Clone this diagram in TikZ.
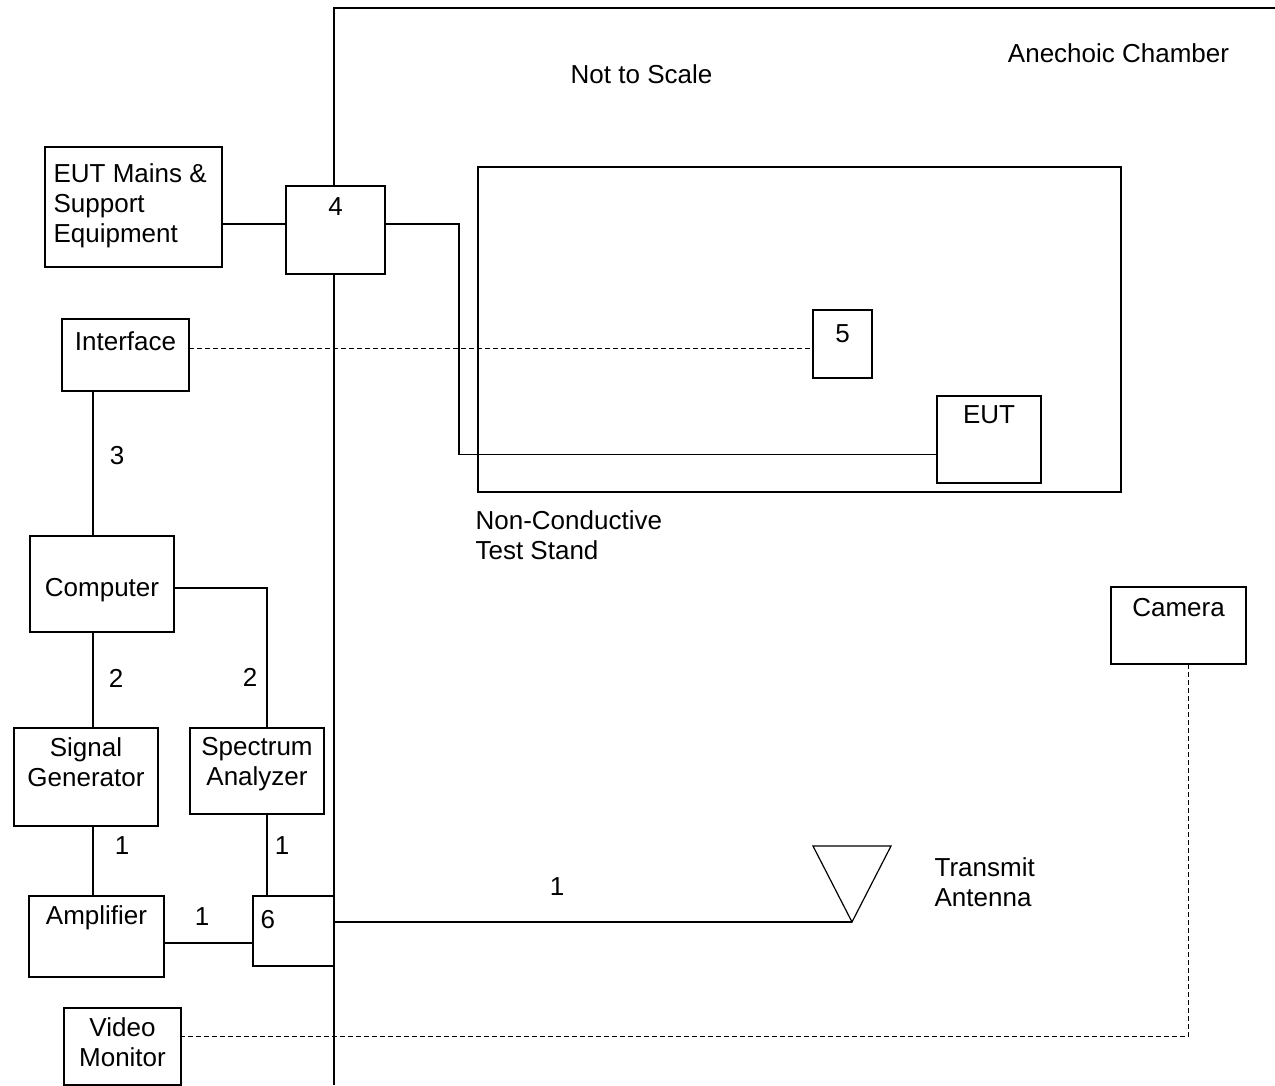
\documentclass[tikz,border=0pt]{standalone}
\usepackage{fontspec}
\setmainfont{Liberation Sans}
\usetikzlibrary{positioning}

\begin{document}
\begin{tikzpicture}[x=1pt,y=-1pt,line width=1.2pt,
  box/.style={draw,anchor=north west,inner sep=0pt,outer sep=0pt},
  txt/.style={inner sep=0pt,font=\fontsize{26}{30}\selectfont,align=center},
  link/.style={dash pattern=on 5pt off 3pt,line width=1pt}]
  \useasboundingbox (0,0) rectangle (1275,1085);
  % equipment boxes
  \node[box,minimum width=177pt,minimum height=120pt] (mains) at (45,147) {};
  \node[box,minimum width=99pt,minimum height=88pt] (b4) at (286,186) {};
  \node[box,minimum width=643pt,minimum height=325pt] (stand) at (478,167) {};
  \node[box,minimum width=59pt,minimum height=68pt] (b5) at (813,310) {};
  \node[box,minimum width=104pt,minimum height=87pt] (eut) at (937,396) {};
  \node[box,minimum width=127pt,minimum height=72pt] (iface) at (62,319) {};
  \node[box,minimum width=144pt,minimum height=96pt] (comp) at (30,536) {};
  \node[box,minimum width=144pt,minimum height=98pt] (siggen) at (14,728) {};
  \node[box,minimum width=134pt,minimum height=86pt] (specan) at (190,728) {};
  \node[box,minimum width=135pt,minimum height=81pt] (amp) at (29,896) {};
  \node[box,minimum width=81pt,minimum height=70pt] (b6) at (253,896) {};
  \node[box,minimum width=135pt,minimum height=77pt] (cam) at (1111,587) {};
  \node[box,minimum width=117pt,minimum height=77pt] (video) at (64,1008) {};
  % box texts
  \node[txt,align=left,below right=16pt and 8pt of mains.north west] (mainstxt) {EUT Mains \&\\Support\\Equipment};
  \node[txt,below=11pt of b4.north] (b4txt) {4};
  \node[txt,below=14pt of b5.north] (b5txt) {5};
  \node[txt,below=9pt of eut.north] (euttxt) {EUT};
  \node[txt,below=12pt of iface.north] (ifacetxt) {Interface};
  \node[txt,below=42pt of comp.north] (comptxt) {Computer};
  \node[txt,below=9pt of siggen.north] (siggentxt) {Signal\\Generator};
  \node[txt,below=9pt of specan.north] (specantxt) {Spectrum\\Analyzer};
  \node[txt,below=9pt of amp.north] (amptxt) {Amplifier};
  \node[txt,below right=14pt and 7pt of b6.north west] (b6txt) {6};
  \node[txt,below=11pt of cam.north] (camtxt) {Camera};
  \node[txt,below=9pt of video.north] (videotxt) {Video\\Monitor};
  % chamber wall
  \coordinate (wall) at (334,8);
  \draw (1275,8) -- (wall) -- (wall |- b4.north);
  \draw (wall |- b4.south) -- (wall |- 0,1085);
  % transmit antenna
  \coordinate (tip) at (852,922);
  \draw (tip) -- (813,846) -- (891,846) -- cycle;
  % cables
  \coordinate (trunk) at (93,0);
  \coordinate (feed) at (267,0);
  \draw ([yshift=6pt]b4.west) -- ([yshift=6pt]b4.west -| mains.east);
  \draw ([yshift=6pt]b4.east) -- ++(74,0) |- ([yshift=-15pt]eut.west);
  \draw (iface.south -| trunk) -- (comp.north -| trunk);
  \draw (comp.south -| trunk) -- (siggen.north -| trunk);
  \draw (siggen.south -| trunk) -- (amp.north -| trunk);
  \draw ([yshift=-4pt]comp.east) -| (specan.north -| feed);
  \draw (specan.south -| feed) -- (b6.north -| feed);
  \draw ([yshift=-12pt]b6.west) -- ([yshift=-12pt]b6.west -| amp.east);
  \draw ([yshift=9pt]b6.east) -- (tip);
  \draw[link] ([yshift=7pt]iface.east) -- ([yshift=7pt]iface.east -| b5.west);
  \draw[link] ([xshift=9.5pt]cam.south) |- ([yshift=10pt]video.east);
  % cable numbers
  \node[txt] (c3) at (117,456) {3};
  \node[txt] (c2a) at (116,678) {2};
  \node[txt] (c2b) at (250,677) {2};
  \node[txt] (c1a) at (122,846) {1};
  \node[txt] (c1b) at (282,846) {1};
  \node[txt] (c1c) at (202,917) {1};
  \node[txt] (c1d) at (557,887) {1};
  % other texts
  \node[txt,anchor=north] (chamber) at (1118.5,43) {Anechoic Chamber};
  \node[txt,anchor=north] (scale) at (641.5,64) {Not to Scale};
  \node[txt,align=left,anchor=north west] (standtxt) at (475,510) {Non-Conductive\\Test Stand};
  \node[txt,align=left,anchor=north west] (anttxt) at (934,857) {Transmit\\Antenna};
\end{tikzpicture}
\end{document}
